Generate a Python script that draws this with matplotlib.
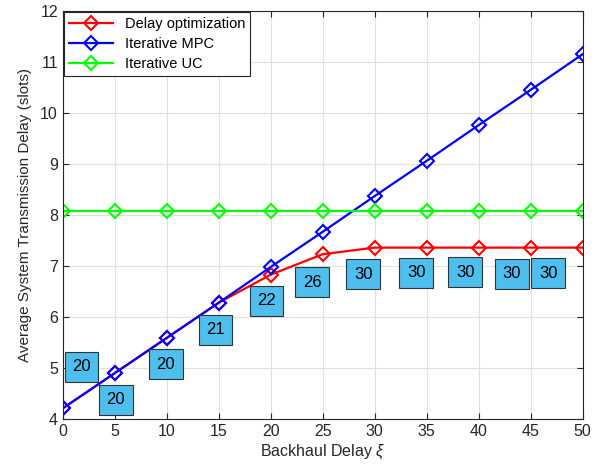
import matplotlib
matplotlib.use("Agg")
import matplotlib.pyplot as plt

plt.rcParams['font.family'] = ['Liberation Sans', 'DejaVu Sans']
plt.rcParams['mathtext.fontset'] = 'custom'
plt.rcParams['mathtext.it'] = 'Liberation Sans:italic'

# data
backhaul = [0, 5, 10, 15, 20, 25, 30, 35, 40, 45, 50]
delay_opt = [4.21, 4.90, 5.59, 6.28, 6.83, 7.23, 7.36, 7.36, 7.36, 7.36, 7.36]
iter_mpc = [4.21, 4.90, 5.59, 6.28, 6.98, 7.67, 8.37, 9.06, 9.76, 10.45, 11.15]
iter_uc = [8.07] * 11

# boxed numbers and where they sit (data coords)
box_labels = ['20', '20', '20', '21', '22', '26', '30', '30', '30', '30', '30']
box_x = [1.8, 5.1, 9.9, 14.7, 19.6, 24.0, 28.9, 34.0, 38.7, 43.2, 46.7]
box_y = [5.02, 4.38, 5.07, 5.75, 6.32, 6.68, 6.84, 6.87, 6.88, 6.85, 6.86]

fig = plt.figure(figsize=(6.1, 4.74), dpi=100)
ax = fig.add_axes([0.103, 0.116, 0.852, 0.861])

style = dict(lw=1.6, marker='D', ms=7, mfc='none', mew=1.5)
ax.plot(backhaul, delay_opt, color='#ff0000', label='Delay optimization', **style)
ax.plot(backhaul, iter_mpc, color='#0000ff', label='Iterative MPC', **style)
ax.plot(backhaul, iter_uc, color='#00ff00', label='Iterative UC', **style)

for lab, x, y in zip(box_labels, box_x, box_y):
    ax.text(x, y, lab, ha='center', va='center', fontsize=12,
            bbox=dict(boxstyle='square,pad=0.45', fc='#4dbeee', ec='#333333', lw=0.8))

ax.set_xlim(0, 50)
ax.set_ylim(4, 12)
ax.set_xticks(range(0, 51, 5))
ax.set_yticks(range(4, 13))
ax.tick_params(direction='in', top=True, right=True, labelsize=11.5, length=4,
               colors='#262626')
for s in ax.spines.values():
    s.set_color('#262626')
    s.set_linewidth(0.8)
ax.grid(True, color='#e0e0e0', lw=0.8)
ax.set_axisbelow(True)

ax.set_xlabel(r'Backhaul Delay $\xi$', fontsize=11.5, color='#262626', labelpad=3)
ax.set_ylabel('Average System Transmission Delay (slots)', fontsize=11,
              color='#262626', labelpad=6)

leg = ax.legend(loc='upper left', fontsize=10.5, borderaxespad=0.1,
                fancybox=False, edgecolor='#262626', framealpha=1,
                handlelength=3, borderpad=0.35, labelspacing=0.4)
leg.get_frame().set_linewidth(0.8)

fig.savefig('out.png', dpi=100)
